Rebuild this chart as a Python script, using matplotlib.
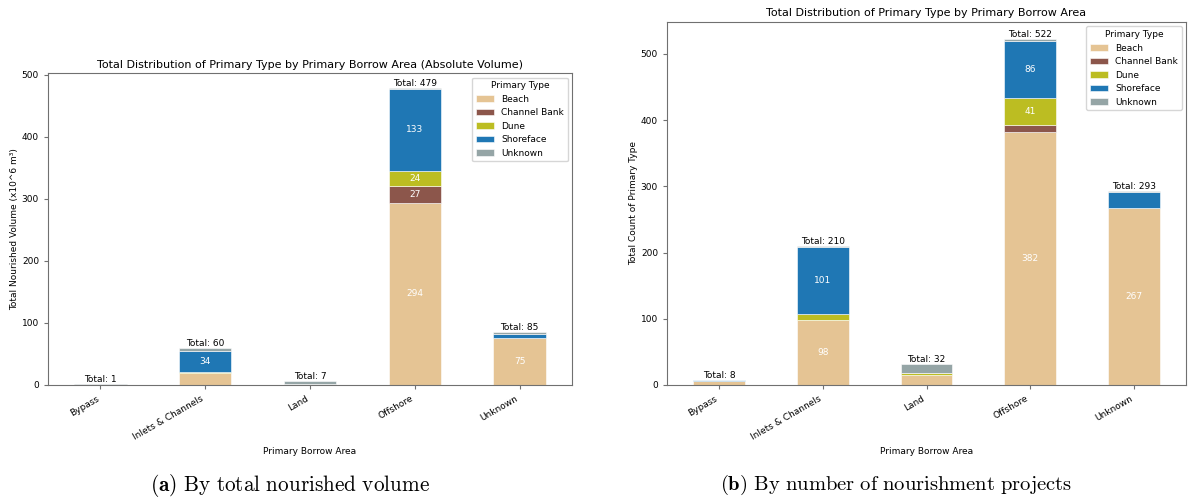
#!/usr/bin/env python3
"""Stacked bars of nourishment primary type by primary borrow area."""

import matplotlib

matplotlib.use("Agg")
import matplotlib.pyplot as plt
import numpy as np
import pandas as pd

areas = ["Bypass", "Inlets & Channels", "Land", "Offshore", "Unknown"]
types = ["Beach", "Channel Bank", "Dune", "Shoreface", "Unknown"]
colors = ["#e5c494", "#8c564b", "#bcbd22", "#1f77b4", "#95a5a6"]

# volume (x10^6 m3), one list per primary type, ordered like `areas`
vol_beach = [0.3, 19, 1, 294, 75]
vol_channel = [0.2, 0.5, 0.5, 27, 0]
vol_dune = [0, 1.5, 0, 24, 0]
vol_shoreface = [0, 34, 0, 133, 8]
vol_unknown = [0.5, 5, 5.5, 1, 2]

# number of projects
cnt_beach = [6, 98, 15, 382, 267]
cnt_channel = [0, 0, 0, 10, 0]
cnt_dune = [0, 9, 3, 41, 0]
cnt_shoreface = [1, 101, 0, 86, 24]
cnt_unknown = [1, 2, 14, 3, 2]

vol_totals = [1, 60, 7, 479, 85]
cnt_totals = [8, 210, 32, 522, 293]

FS = 6.5
plt.rcParams["font.size"] = FS
plt.rcParams["mathtext.fontset"] = "cm"


def stacked(ax, cols, totals, title, ylabel):
    df = pd.DataFrame(dict(zip(types, cols)), index=areas)
    x = np.arange(len(areas))
    bottom = np.zeros(len(areas))
    for name, color in zip(types, colors):
        vals = df[name].to_numpy(dtype=float)
        ax.bar(x, vals, 0.5, bottom=bottom, color=color, label=name,
               edgecolor="white", linewidth=0.4)
        for xi, v, b in zip(x, vals, bottom):
            if v > 0.05 * max(totals):
                ax.text(xi, b + v / 2, f"{v:.0f}", ha="center", va="center",
                        color="white", fontsize=FS)
        bottom += vals
    for xi, b, t in zip(x, bottom, totals):
        ax.text(xi, b, f"Total: {t}", ha="center", va="bottom", fontsize=FS)
    ax.set_xlim(-0.5, len(areas) - 0.5)
    ax.set_ylim(0, max(bottom) * 1.05)
    ax.set_xticks(x)
    ax.set_xticklabels(areas, rotation=30, ha="right")
    ax.set_title(title, fontsize=8, pad=4)
    ax.set_xlabel("Primary Borrow Area")
    ax.set_ylabel(ylabel, labelpad=2)
    for s in ax.spines.values():
        s.set_color("#707070")
    ax.tick_params(colors="#707070", labelcolor="black", length=3)
    ax.legend(title="Primary Type", loc="upper right", fontsize=FS,
              title_fontsize=FS)


fig = plt.figure(figsize=(11.92, 4.99), dpi=100)
ax1 = fig.add_axes([0.0403, 0.2285, 0.4396, 0.625])
ax2 = fig.add_axes([0.5596, 0.2285, 0.4354, 0.7275])

stacked(ax1, [vol_beach, vol_channel, vol_dune, vol_shoreface, vol_unknown],
        vol_totals,
        "Total Distribution of Primary Type by Primary Borrow Area (Absolute Volume)",
        "Total Nourished Volume (x10^6 m³)")
stacked(ax2, [cnt_beach, cnt_channel, cnt_dune, cnt_shoreface, cnt_unknown],
        cnt_totals,
        "Total Distribution of Primary Type by Primary Borrow Area",
        "Total Count of Primary Type")

fig.text(0.243, 0.028,
         r"$\mathbf{(a)}$ $\mathrm{By\ total\ nourished\ volume}$",
         ha="center", va="center", fontsize=15.3)
fig.text(0.752, 0.028,
         r"$\mathbf{(b)}$ $\mathrm{By\ number\ of\ nourishment\ projects}$",
         ha="center", va="center", fontsize=14.8)

fig.savefig("out.png", dpi=100)
